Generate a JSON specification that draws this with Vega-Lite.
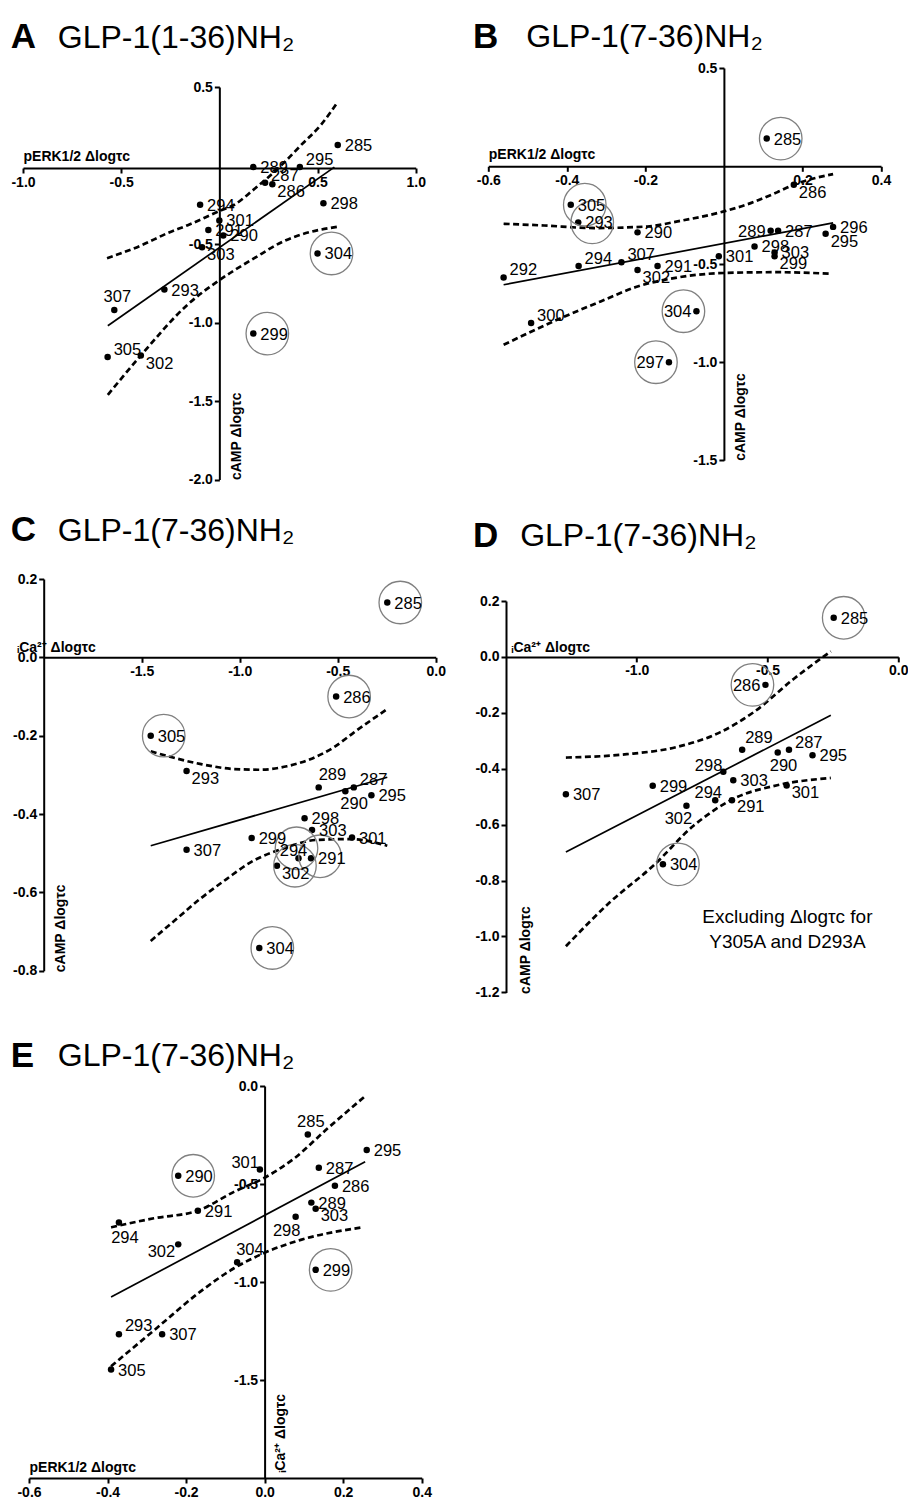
{
"$schema": "https://vega.github.io/schema/vega-lite/v6.json",
"padding": {"left": 10, "top": 19, "right": 0, "bottom": 0},
"background": "white",
"bounds": "flush",
"align": "each",
"columns": 2,
"spacing": {"row": 93, "column": 52.3},
"config": {
  "view": {"stroke": null},
  "axis": {"domainColor": "black", "domainWidth": 2, "tickColor": "black", "tickWidth": 2, "tickSize": 5, "grid": false,
    "labelFont": "Liberation Sans", "labelFontWeight": "bold", "labelFontSize": 14, "labelColor": "black", "labelPadding": 2,
    "labelFlush": false, "labelOverlap": false, "labelBound": false,
    "labelExpr": "replace(format(datum.value, '.1f'), '\u2212', '-')",
    "titleFont": "Liberation Sans", "titleFontWeight": "bold", "titleFontSize": 14, "titleColor": "black"},
  "axisX": {"titleAlign": "left", "titleBaseline": "alphabetic", "titleAngle": 0},
  "axisY": {"titleAngle": 270, "titleAlign": "left", "titleBaseline": "top"},
  "text": {"font": "Liberation Sans", "fontSize": 16.5, "color": "black", "baseline": "middle"},
  "title": {"anchor": "start", "frame": "group", "font": "Liberation Sans", "fontSize": 35, "fontWeight": "bold", "color": "black",
    "subtitleFont": "Liberation Sans", "subtitleFontSize": 32, "subtitleFontWeight": "normal", "subtitleColor": "black", "subtitlePadding": -32.6}
},
"datasets": {
  "A_pt": [
    {"id":"285","x":0.603,"y":0.13,"c":false},{"id":"289","x":0.173,"y":-0.01,"c":false},{"id":"295","x":0.41,"y":-0.01,"c":false},
    {"id":"287","x":0.233,"y":-0.11,"c":false},{"id":"286","x":0.27,"y":-0.12,"c":false},{"id":"298","x":0.53,"y":-0.24,"c":false},
    {"id":"294","x":-0.098,"y":-0.25,"c":false},{"id":"301","x":0.0,"y":-0.35,"c":false},{"id":"291","x":-0.056,"y":-0.41,"c":false},
    {"id":"290","x":0.02,"y":-0.445,"c":false},{"id":"303","x":-0.088,"y":-0.52,"c":false},{"id":"304","x":0.5,"y":-0.56,"c":true},
    {"id":"293","x":-0.28,"y":-0.79,"c":false},{"id":"307","x":-0.535,"y":-0.92,"c":false},{"id":"299","x":0.173,"y":-1.07,"c":true},
    {"id":"305","x":-0.569,"y":-1.22,"c":false},{"id":"302","x":-0.4,"y":-1.21,"c":false}],
  "A_ln": [
    {"s":"fit","x":-0.568,"y":-1.02},{"s":"fit","x":0.586,"y":-0.01},
    {"s":"up","x":-0.572,"y":-0.59},{"s":"up","x":-0.4,"y":-0.51},{"s":"up","x":-0.263,"y":-0.43},{"s":"up","x":-0.161,"y":-0.38},
    {"s":"up","x":0,"y":-0.29},{"s":"up","x":0.076,"y":-0.25},{"s":"up","x":0.178,"y":-0.15},{"s":"up","x":0.331,"y":0.02},
    {"s":"up","x":0.416,"y":0.13},{"s":"up","x":0.518,"y":0.26},{"s":"up","x":0.603,"y":0.405},
    {"s":"lo","x":-0.568,"y":-1.46},{"s":"lo","x":-0.4,"y":-1.21},{"s":"lo","x":-0.161,"y":-0.885},{"s":"lo","x":0,"y":-0.73},
    {"s":"lo","x":0.178,"y":-0.59},{"s":"lo","x":0.331,"y":-0.48},{"s":"lo","x":0.416,"y":-0.44},{"s":"lo","x":0.603,"y":-0.39}],
  "B_pt": [
    {"id":"285","x":0.109,"y":0.14,"c":true},{"id":"286","x":0.178,"y":-0.095,"c":false},{"id":"305","x":-0.39,"y":-0.197,"c":true},
    {"id":"293","x":-0.371,"y":-0.287,"c":true},{"id":"290","x":-0.22,"y":-0.338,"c":false},{"id":"289","x":0.119,"y":-0.33,"c":false},
    {"id":"287","x":0.138,"y":-0.33,"c":false},{"id":"296","x":0.278,"y":-0.31,"c":false},{"id":"295","x":0.259,"y":-0.345,"c":false},
    {"id":"298","x":0.078,"y":-0.41,"c":false},{"id":"303","x":0.129,"y":-0.44,"c":false},{"id":"299","x":0.129,"y":-0.46,"c":false},
    {"id":"301","x":-0.013,"y":-0.46,"c":false},{"id":"291","x":-0.169,"y":-0.51,"c":false},{"id":"302","x":-0.22,"y":-0.53,"c":false},
    {"id":"307","x":-0.261,"y":-0.49,"c":false},{"id":"294","x":-0.37,"y":-0.51,"c":false},{"id":"292","x":-0.561,"y":-0.568,"c":false},
    {"id":"300","x":-0.491,"y":-0.8,"c":false},{"id":"304","x":-0.07,"y":-0.74,"c":true},{"id":"297","x":-0.14,"y":-1.0,"c":true}],
  "B_ln": [
    {"s":"fit","x":-0.561,"y":-0.605},{"s":"fit","x":0.278,"y":-0.29},
    {"s":"up","x":-0.561,"y":-0.294},{"s":"up","x":-0.458,"y":-0.303},{"s":"up","x":-0.331,"y":-0.316},{"s":"up","x":-0.195,"y":-0.308},
    {"s":"up","x":-0.118,"y":-0.282},{"s":"up","x":0,"y":-0.231},{"s":"up","x":0.068,"y":-0.189},{"s":"up","x":0.136,"y":-0.133},
    {"s":"up","x":0.178,"y":-0.095},{"s":"up","x":0.278,"y":-0.041},
    {"s":"lo","x":-0.561,"y":-0.911},{"s":"lo","x":-0.415,"y":-0.775},{"s":"lo","x":-0.314,"y":-0.69},{"s":"lo","x":-0.22,"y":-0.614},
    {"s":"lo","x":-0.118,"y":-0.568},{"s":"lo","x":0,"y":-0.545},{"s":"lo","x":0.136,"y":-0.541},{"s":"lo","x":0.271,"y":-0.549}],
  "C_pt": [
    {"id":"285","x":-0.247,"y":0.14,"c":true},{"id":"286","x":-0.508,"y":-0.1,"c":true},{"id":"305","x":-1.454,"y":-0.2,"c":true},
    {"id":"293","x":-1.271,"y":-0.29,"c":false},{"id":"289","x":-0.597,"y":-0.332,"c":false},{"id":"287","x":-0.418,"y":-0.332,"c":false},
    {"id":"290","x":-0.461,"y":-0.342,"c":false},{"id":"295","x":-0.328,"y":-0.352,"c":false},{"id":"298","x":-0.669,"y":-0.411,"c":false},
    {"id":"303","x":-0.631,"y":-0.441,"c":false},{"id":"301","x":-0.427,"y":-0.46,"c":false},{"id":"299","x":-0.939,"y":-0.461,"c":false},
    {"id":"307","x":-1.271,"y":-0.491,"c":false},{"id":"294","x":-0.7,"y":-0.513,"c":true},{"id":"291","x":-0.636,"y":-0.513,"c":true},
    {"id":"302","x":-0.81,"y":-0.532,"c":true},{"id":"304","x":-0.9,"y":-0.742,"c":true}],
  "C_ln": [
    {"s":"fit","x":-1.454,"y":-0.481},{"s":"fit","x":-0.247,"y":-0.306},
    {"s":"up","x":-1.454,"y":-0.24},{"s":"up","x":-1.203,"y":-0.272},{"s":"up","x":-1.033,"y":-0.285},{"s":"up","x":-0.896,"y":-0.287},
    {"s":"up","x":-0.759,"y":-0.278},{"s":"up","x":-0.64,"y":-0.26},{"s":"up","x":-0.521,"y":-0.23},{"s":"up","x":-0.418,"y":-0.192},
    {"s":"up","x":-0.247,"y":-0.132},
    {"s":"lo","x":-1.454,"y":-0.724},{"s":"lo","x":-1.323,"y":-0.668},{"s":"lo","x":-1.203,"y":-0.617},{"s":"lo","x":-1.067,"y":-0.566},
    {"s":"lo","x":-0.947,"y":-0.524},{"s":"lo","x":-0.777,"y":-0.488},{"s":"lo","x":-0.606,"y":-0.466},{"s":"lo","x":-0.435,"y":-0.464},
    {"s":"lo","x":-0.247,"y":-0.481}],
  "D_pt": [
    {"id":"285","x":-0.247,"y":0.14,"c":true},{"id":"286","x":-0.508,"y":-0.1,"c":true},
    {"id":"289","x":-0.597,"y":-0.332,"c":false},{"id":"287","x":-0.418,"y":-0.332,"c":false},
    {"id":"290","x":-0.461,"y":-0.342,"c":false},{"id":"295","x":-0.328,"y":-0.352,"c":false},{"id":"298","x":-0.669,"y":-0.411,"c":false},
    {"id":"303","x":-0.631,"y":-0.441,"c":false},{"id":"301","x":-0.427,"y":-0.46,"c":false},{"id":"299","x":-0.939,"y":-0.461,"c":false},
    {"id":"307","x":-1.271,"y":-0.491,"c":false},{"id":"294","x":-0.7,"y":-0.513,"c":false},{"id":"291","x":-0.636,"y":-0.513,"c":false},
    {"id":"302","x":-0.81,"y":-0.532,"c":false},{"id":"304","x":-0.9,"y":-0.742,"c":true}],
  "D_ln": [
    {"s":"fit","x":-1.271,"y":-0.698},{"s":"fit","x":-0.258,"y":-0.209},
    {"s":"up","x":-1.271,"y":-0.36},{"s":"up","x":-1.038,"y":-0.348},{"s":"up","x":-0.846,"y":-0.322},{"s":"up","x":-0.68,"y":-0.269},
    {"s":"up","x":-0.552,"y":-0.197},{"s":"up","x":-0.399,"y":-0.078},{"s":"up","x":-0.258,"y":0.02},
    {"s":"lo","x":-1.271,"y":-1.035},{"s":"lo","x":-1.102,"y":-0.877},{"s":"lo","x":-0.936,"y":-0.746},{"s":"lo","x":-0.782,"y":-0.603},
    {"s":"lo","x":-0.629,"y":-0.507},{"s":"lo","x":-0.463,"y":-0.459},{"s":"lo","x":-0.258,"y":-0.433}],
  "D_note": [
    {"t": "Excluding \u0394log\u03c4c for", "x": -0.424, "y": -0.952},
    {"t": "Y305A and D293A", "x": -0.424, "y": -1.042}],
  "E_pt": [
    {"id":"285","x":0.11,"y":-0.248,"c":false},{"id":"295","x":0.26,"y":-0.327,"c":false},{"id":"287","x":0.138,"y":-0.417,"c":false},
    {"id":"301","x":-0.012,"y":-0.426,"c":false},{"id":"290","x":-0.22,"y":-0.458,"c":true},{"id":"286","x":0.179,"y":-0.509,"c":false},
    {"id":"289","x":0.119,"y":-0.595,"c":false},{"id":"303","x":0.13,"y":-0.626,"c":false},{"id":"291","x":-0.17,"y":-0.636,"c":false},
    {"id":"298","x":0.079,"y":-0.667,"c":false},{"id":"294","x":-0.371,"y":-0.697,"c":false},{"id":"302","x":-0.22,"y":-0.808,"c":false},
    {"id":"304","x":-0.07,"y":-0.899,"c":false},{"id":"299","x":0.13,"y":-0.938,"c":true},{"id":"293","x":-0.371,"y":-1.266,"c":false},
    {"id":"307","x":-0.261,"y":-1.266,"c":false},{"id":"305","x":-0.391,"y":-1.447,"c":false}],
  "E_ln": [
    {"s":"fit","x":-0.391,"y":-1.077},{"s":"fit","x":0.256,"y":-0.387},
    {"s":"up","x":-0.391,"y":-0.721},{"s":"up","x":-0.282,"y":-0.675},{"s":"up","x":-0.17,"y":-0.636},{"s":"up","x":-0.078,"y":-0.54},
    {"s":"up","x":0,"y":-0.468},{"s":"up","x":0.075,"y":-0.37},{"s":"up","x":0.16,"y":-0.217},{"s":"up","x":0.256,"y":-0.052},
    {"s":"lo","x":-0.391,"y":-1.43},{"s":"lo","x":-0.273,"y":-1.232},{"s":"lo","x":-0.163,"y":-1.048},{"s":"lo","x":-0.078,"y":-0.93},
    {"s":"lo","x":0,"y":-0.851},{"s":"lo","x":0.092,"y":-0.785},{"s":"lo","x":0.249,"y":-0.721}]
},
"concat": [
  {
   "width": 392.7, "height": 417.6,
   "title": {"text": "A", "subtitle": "\u200b\u00a0\u00a0\u00a0\u00a0\u00a0\u200aGLP-1(1-36)NH\u2082", "dx": -12.3, "offset": 12.7},
   "encoding": {
     "x": {"field": "x", "type": "quantitative", "scale": {"domain": [-1, 1], "range": [0, 392.7], "nice": false, "zero": false},
       "axis": {"orient": "bottom", "offset": -317.6, "values": [-1, -0.5, 0.5, 1], "title": "pERK1/2 \u0394log\u03c4c", "titleX": 0, "titleY": -7.4}},
     "y": {"field": "y", "type": "quantitative", "scale": {"domain": [-2, 0.5], "range": [411.6, 19], "nice": false, "zero": false},
       "axis": {"orient": "left", "offset": -196.35, "values": [0.5, -0.5, -1, -1.5, -2], "title": "cAMP \u0394log\u03c4c", "titleX": 10, "titleY": 411.6}}
   },
   "layer": [
     {"data": {"name": "A_ln"}, "transform": [{"filter": "datum.s === 'fit'"}], "mark": {"type": "line", "color": "black", "strokeWidth": 1.7}},
     {"data": {"name": "A_ln"}, "transform": [{"filter": "datum.s !== 'fit'"}], "mark": {"type": "line", "color": "black", "strokeWidth": 2.7, "strokeDash": [6, 3.5], "interpolate": "monotone"}, "encoding": {"detail": {"field": "s"}}},
     {"data": {"name": "A_pt"}, "mark": {"type": "circle", "size": 42, "color": "black", "opacity": 1}},
     {"data": {"name": "A_pt"}, "transform": [{"filter": "datum.c"}], "mark": {"type": "point", "shape": "circle", "filled": false, "size": 1810, "color": "#808080", "strokeWidth": 1.3, "opacity": 1, "xOffset": 14}},
     {"data": {"name": "A_pt"}, "transform": [{"filter": "indexof(['295','287','305','286','303','302','307'], datum.id) < 0"}], "mark": {"type": "text", "align": "left", "dx": 7, "dy": 1}, "encoding": {"text": {"field": "id"}}},
     {"data": {"name": "A_pt"}, "transform": [{"filter": "indexof(['295','287','305'], datum.id) >= 0"}], "mark": {"type": "text", "align": "left", "dx": 6, "dy": -7}, "encoding": {"text": {"field": "id"}}},
     {"data": {"name": "A_pt"}, "transform": [{"filter": "indexof(['286','303','302'], datum.id) >= 0"}], "mark": {"type": "text", "align": "left", "dx": 5, "dy": 8}, "encoding": {"text": {"field": "id"}}},
     {"data": {"name": "A_pt"}, "transform": [{"filter": "indexof(['307'], datum.id) >= 0"}], "mark": {"type": "text", "align": "center", "dx": 3, "dy": -13}, "encoding": {"text": {"field": "id"}}}
   ]
  },
  {
   "width": 392.7, "height": 417.6,
   "title": {"text": "B", "subtitle": "\u200b\u00a0\u00a0\u00a0\u00a0\u00a0\u00a0GLP-1(7-36)NH\u2082", "dx": -15.3, "offset": 6.2},
   "encoding": {
     "x": {"field": "x", "type": "quantitative", "scale": {"domain": [-0.6, 0.4], "range": [0, 392.7], "nice": false, "zero": false},
       "axis": {"orient": "bottom", "offset": -319.3, "values": [-0.6, -0.4, -0.2, 0.2, 0.4], "title": "pERK1/2 \u0394log\u03c4c", "titleX": 0, "titleY": -7.7}},
     "y": {"field": "y", "type": "quantitative", "scale": {"domain": [-1.5, 0.5], "range": [392.3, 0], "nice": false, "zero": false},
       "axis": {"orient": "left", "offset": -235.6, "values": [0.5, -0.5, -1, -1.5], "title": "cAMP \u0394log\u03c4c", "titleX": 10, "titleY": 392.3}}
   },
   "layer": [
     {"data": {"name": "B_ln"}, "transform": [{"filter": "datum.s === 'fit'"}], "mark": {"type": "line", "color": "black", "strokeWidth": 1.7}},
     {"data": {"name": "B_ln"}, "transform": [{"filter": "datum.s !== 'fit'"}], "mark": {"type": "line", "color": "black", "strokeWidth": 2.7, "strokeDash": [6, 3.5], "interpolate": "monotone"}, "encoding": {"detail": {"field": "s"}}},
     {"data": {"name": "B_pt"}, "mark": {"type": "circle", "size": 42, "color": "black", "opacity": 1}},
     {"data": {"name": "B_pt"}, "transform": [{"filter": "datum.c && indexof(['304','297'], datum.id) < 0"}], "mark": {"type": "point", "shape": "circle", "filled": false, "size": 1810, "color": "#808080", "strokeWidth": 1.3, "opacity": 1, "xOffset": 14}},
     {"data": {"name": "B_pt"}, "transform": [{"filter": "indexof(['304','297'], datum.id) >= 0"}], "mark": {"type": "point", "shape": "circle", "filled": false, "size": 1810, "color": "#808080", "strokeWidth": 1.3, "opacity": 1, "xOffset": -13}},
     {"data": {"name": "B_pt"}, "transform": [{"filter": "indexof(['286','295','299','302','307','292','300','294','289','304','297'], datum.id) < 0"}], "mark": {"type": "text", "align": "left", "dx": 7, "dy": 1}, "encoding": {"text": {"field": "id"}}},
     {"data": {"name": "B_pt"}, "transform": [{"filter": "indexof(['286','295','299','302'], datum.id) >= 0"}], "mark": {"type": "text", "align": "left", "dx": 5, "dy": 8}, "encoding": {"text": {"field": "id"}}},
     {"data": {"name": "B_pt"}, "transform": [{"filter": "indexof(['307','292','300','294'], datum.id) >= 0"}], "mark": {"type": "text", "align": "left", "dx": 6, "dy": -7}, "encoding": {"text": {"field": "id"}}},
     {"data": {"name": "B_pt"}, "transform": [{"filter": "indexof(['289','304','297'], datum.id) >= 0"}], "mark": {"type": "text", "align": "right", "dx": -5, "dy": 1}, "encoding": {"text": {"field": "id"}}}
   ]
  },
  {
   "width": 412.7, "height": 413.7,
   "title": {"text": "C", "subtitle": "\u200b\u00a0\u00a0\u00a0\u00a0\u00a0\u200aGLP-1(7-36)NH\u2082", "dx": -12.3, "offset": 23.8},
   "encoding": {
     "x": {"field": "x", "type": "quantitative", "scale": {"domain": [-2, 0], "range": [20.7, 412.7], "nice": false, "zero": false},
       "axis": {"orient": "bottom", "offset": -335.4, "values": [-1.5, -1, -0.5, 0], "title": "\u1d62Ca\u00b2\u207a \u0394log\u03c4c", "titleX": -6.3, "titleY": -5.7}},
     "y": {"field": "y", "type": "quantitative", "scale": {"domain": [-0.8, 0.2], "range": [391.7, 0], "nice": false, "zero": false},
       "axis": {"orient": "left", "offset": -20.7, "values": [0.2, 0, -0.2, -0.4, -0.6, -0.8], "title": "cAMP \u0394log\u03c4c", "titleX": 10, "titleY": 392.7}}
   },
   "layer": [
     {"data": {"name": "C_ln"}, "transform": [{"filter": "datum.s === 'fit'"}], "mark": {"type": "line", "color": "black", "strokeWidth": 1.7}},
     {"data": {"name": "C_ln"}, "transform": [{"filter": "datum.s !== 'fit'"}], "mark": {"type": "line", "color": "black", "strokeWidth": 2.7, "strokeDash": [6, 3.5], "interpolate": "monotone"}, "encoding": {"detail": {"field": "s"}}},
     {"data": {"name": "C_pt"}, "mark": {"type": "circle", "size": 42, "color": "black", "opacity": 1}},
     {"data": {"name": "C_pt"}, "transform": [{"filter": "indexof(['285','286','305','304'], datum.id) >= 0"}], "mark": {"type": "point", "shape": "circle", "filled": false, "size": 1810, "color": "#808080", "strokeWidth": 1.3, "opacity": 1, "xOffset": 13}},
     {"data": {"name": "C_pt"}, "transform": [{"filter": "datum.id === '294'"}], "mark": {"type": "point", "shape": "circle", "filled": false, "size": 1810, "color": "#808080", "strokeWidth": 1.3, "opacity": 1, "xOffset": -2, "yOffset": -10}},
     {"data": {"name": "C_pt"}, "transform": [{"filter": "datum.id === '291'"}], "mark": {"type": "point", "shape": "circle", "filled": false, "size": 1810, "color": "#808080", "strokeWidth": 1.3, "opacity": 1, "xOffset": 9, "yOffset": -2}},
     {"data": {"name": "C_pt"}, "transform": [{"filter": "datum.id === '302'"}], "mark": {"type": "point", "shape": "circle", "filled": false, "size": 1810, "color": "#808080", "strokeWidth": 1.3, "opacity": 1, "xOffset": 18}},
     {"data": {"name": "C_pt"}, "transform": [{"filter": "indexof(['293','302','289','287','290','294'], datum.id) < 0"}], "mark": {"type": "text", "align": "left", "dx": 7, "dy": 1}, "encoding": {"text": {"field": "id"}}},
     {"data": {"name": "C_pt"}, "transform": [{"filter": "indexof(['293','302'], datum.id) >= 0"}], "mark": {"type": "text", "align": "left", "dx": 5, "dy": 8}, "encoding": {"text": {"field": "id"}}},
     {"data": {"name": "C_pt"}, "transform": [{"filter": "indexof(['289'], datum.id) >= 0"}], "mark": {"type": "text", "align": "left", "dx": 0, "dy": -12}, "encoding": {"text": {"field": "id"}}},
     {"data": {"name": "C_pt"}, "transform": [{"filter": "indexof(['287'], datum.id) >= 0"}], "mark": {"type": "text", "align": "left", "dx": 6, "dy": -7}, "encoding": {"text": {"field": "id"}}},
     {"data": {"name": "C_pt"}, "transform": [{"filter": "indexof(['290'], datum.id) >= 0"}], "mark": {"type": "text", "align": "left", "dx": -5, "dy": 13}, "encoding": {"text": {"field": "id"}}},
     {"data": {"name": "C_pt"}, "transform": [{"filter": "indexof(['294'], datum.id) >= 0"}], "mark": {"type": "text", "align": "center", "dx": -5, "dy": -7}, "encoding": {"text": {"field": "id"}}}
   ]
  },
  {
   "width": 410, "height": 413.7,
   "title": {"text": "D", "subtitle": "\u200b\u00a0\u00a0\u00a0\u00a0\u00a0\u200aGLP-1(7-36)NH\u2082", "dx": -15.3, "offset": 25.3},
   "encoding": {
     "x": {"field": "x", "type": "quantitative", "scale": {"domain": [-1.5, 0], "range": [17.7, 410], "nice": false, "zero": false},
       "axis": {"orient": "bottom", "offset": -335.8, "values": [-1, -0.5, 0], "title": "\u1d62Ca\u00b2\u207a \u0394log\u03c4c", "titleX": 22.7, "titleY": -5.7}},
     "y": {"field": "y", "type": "quantitative", "scale": {"domain": [-1.2, 0.2], "range": [413.4, 22], "nice": false, "zero": false},
       "axis": {"orient": "left", "offset": -17.7, "values": [0.2, 0, -0.2, -0.4, -0.6, -0.8, -1, -1.2], "title": "cAMP \u0394log\u03c4c", "titleX": 12, "titleY": 414.4}}
   },
   "layer": [
     {"data": {"name": "D_ln"}, "transform": [{"filter": "datum.s === 'fit'"}], "mark": {"type": "line", "color": "black", "strokeWidth": 1.7}},
     {"data": {"name": "D_ln"}, "transform": [{"filter": "datum.s !== 'fit'"}], "mark": {"type": "line", "color": "black", "strokeWidth": 2.7, "strokeDash": [6, 3.5], "interpolate": "monotone"}, "encoding": {"detail": {"field": "s"}}},
     {"data": {"name": "D_pt"}, "mark": {"type": "circle", "size": 42, "color": "black", "opacity": 1}},
     {"data": {"name": "D_pt"}, "transform": [{"filter": "datum.id === '285'"}], "mark": {"type": "point", "shape": "circle", "filled": false, "size": 1810, "color": "#808080", "strokeWidth": 1.3, "opacity": 1, "xOffset": 10}},
     {"data": {"name": "D_pt"}, "transform": [{"filter": "datum.id === '286'"}], "mark": {"type": "point", "shape": "circle", "filled": false, "size": 1810, "color": "#808080", "strokeWidth": 1.3, "opacity": 1, "xOffset": -13}},
     {"data": {"name": "D_pt"}, "transform": [{"filter": "datum.id === '304'"}], "mark": {"type": "point", "shape": "circle", "filled": false, "size": 1810, "color": "#808080", "strokeWidth": 1.3, "opacity": 1, "xOffset": 15}},
     {"data": {"name": "D_pt"}, "transform": [{"filter": "indexof(['286','289','287','290','298','294','291','301','302'], datum.id) < 0"}], "mark": {"type": "text", "align": "left", "dx": 7, "dy": 1}, "encoding": {"text": {"field": "id"}}},
     {"data": {"name": "D_pt"}, "transform": [{"filter": "indexof(['286'], datum.id) >= 0"}], "mark": {"type": "text", "align": "right", "dx": -5, "dy": 1}, "encoding": {"text": {"field": "id"}}},
     {"data": {"name": "D_pt"}, "transform": [{"filter": "indexof(['289'], datum.id) >= 0"}], "mark": {"type": "text", "align": "left", "dx": 3, "dy": -12}, "encoding": {"text": {"field": "id"}}},
     {"data": {"name": "D_pt"}, "transform": [{"filter": "indexof(['287'], datum.id) >= 0"}], "mark": {"type": "text", "align": "left", "dx": 6, "dy": -7}, "encoding": {"text": {"field": "id"}}},
     {"data": {"name": "D_pt"}, "transform": [{"filter": "indexof(['290'], datum.id) >= 0"}], "mark": {"type": "text", "align": "left", "dx": -8, "dy": 13}, "encoding": {"text": {"field": "id"}}},
     {"data": {"name": "D_pt"}, "transform": [{"filter": "indexof(['298'], datum.id) >= 0"}], "mark": {"type": "text", "align": "right", "dx": -1, "dy": -6}, "encoding": {"text": {"field": "id"}}},
     {"data": {"name": "D_pt"}, "transform": [{"filter": "indexof(['294'], datum.id) >= 0"}], "mark": {"type": "text", "align": "center", "dx": -7, "dy": -7}, "encoding": {"text": {"field": "id"}}},
     {"data": {"name": "D_pt"}, "transform": [{"filter": "indexof(['291','301'], datum.id) >= 0"}], "mark": {"type": "text", "align": "left", "dx": 5, "dy": 7}, "encoding": {"text": {"field": "id"}}},
     {"data": {"name": "D_pt"}, "transform": [{"filter": "indexof(['302'], datum.id) >= 0"}], "mark": {"type": "text", "align": "center", "dx": -8, "dy": 13}, "encoding": {"text": {"field": "id"}}},
     {"data": {"name": "D_note"}, "mark": {"type": "text", "align": "center", "baseline": "alphabetic", "fontSize": 19}, "encoding": {"text": {"field": "t"}}}
   ]
  },
  {
   "width": 398.7, "height": 392,
   "title": {"text": "E", "subtitle": "\u200b\u00a0\u00a0\u00a0\u00a0\u00a0\u200aGLP-1(7-36)NH\u2082", "dx": -12.3, "offset": 5.5},
   "encoding": {
     "x": {"field": "x", "type": "quantitative", "scale": {"domain": [-0.6, 0.4], "range": [6, 398.7], "nice": false, "zero": false},
       "axis": {"orient": "bottom", "offset": 0, "values": [-0.6, -0.4, -0.2, 0, 0.2, 0.4], "title": "pERK1/2 \u0394log\u03c4c", "titleX": 6, "titleY": -6.7}},
     "y": {"field": "y", "type": "quantitative", "scale": {"domain": [-2, 0], "range": [392, 0], "nice": false, "zero": false},
       "axis": {"orient": "left", "offset": -241.6, "values": [0, -0.5, -1, -1.5], "title": "\u1d62Ca\u00b2\u207a \u0394log\u03c4c", "titleX": 9, "titleY": 386}}
   },
   "layer": [
     {"data": {"name": "E_ln"}, "transform": [{"filter": "datum.s === 'fit'"}], "mark": {"type": "line", "color": "black", "strokeWidth": 1.7}},
     {"data": {"name": "E_ln"}, "transform": [{"filter": "datum.s !== 'fit'"}], "mark": {"type": "line", "color": "black", "strokeWidth": 2.7, "strokeDash": [6, 3.5], "interpolate": "monotone"}, "encoding": {"detail": {"field": "s"}}},
     {"data": {"name": "E_pt"}, "mark": {"type": "circle", "size": 42, "color": "black", "opacity": 1}},
     {"data": {"name": "E_pt"}, "transform": [{"filter": "datum.c"}], "mark": {"type": "point", "shape": "circle", "filled": false, "size": 1810, "color": "#808080", "strokeWidth": 1.3, "opacity": 1, "xOffset": 15}},
     {"data": {"name": "E_pt"}, "transform": [{"filter": "indexof(['285','301','303','298','294','302','304','293'], datum.id) < 0"}], "mark": {"type": "text", "align": "left", "dx": 7, "dy": 1}, "encoding": {"text": {"field": "id"}}},
     {"data": {"name": "E_pt"}, "transform": [{"filter": "indexof(['285'], datum.id) >= 0"}], "mark": {"type": "text", "align": "center", "dx": 3, "dy": -13}, "encoding": {"text": {"field": "id"}}},
     {"data": {"name": "E_pt"}, "transform": [{"filter": "indexof(['301'], datum.id) >= 0"}], "mark": {"type": "text", "align": "right", "dx": -1, "dy": -6}, "encoding": {"text": {"field": "id"}}},
     {"data": {"name": "E_pt"}, "transform": [{"filter": "indexof(['303'], datum.id) >= 0"}], "mark": {"type": "text", "align": "left", "dx": 5, "dy": 7}, "encoding": {"text": {"field": "id"}}},
     {"data": {"name": "E_pt"}, "transform": [{"filter": "indexof(['298'], datum.id) >= 0"}], "mark": {"type": "text", "align": "center", "dx": -9, "dy": 14}, "encoding": {"text": {"field": "id"}}},
     {"data": {"name": "E_pt"}, "transform": [{"filter": "indexof(['294'], datum.id) >= 0"}], "mark": {"type": "text", "align": "center", "dx": 6, "dy": 15}, "encoding": {"text": {"field": "id"}}},
     {"data": {"name": "E_pt"}, "transform": [{"filter": "indexof(['302'], datum.id) >= 0"}], "mark": {"type": "text", "align": "right", "dx": -3, "dy": 8}, "encoding": {"text": {"field": "id"}}},
     {"data": {"name": "E_pt"}, "transform": [{"filter": "indexof(['304'], datum.id) >= 0"}], "mark": {"type": "text", "align": "left", "dx": -1, "dy": -12}, "encoding": {"text": {"field": "id"}}},
     {"data": {"name": "E_pt"}, "transform": [{"filter": "indexof(['293'], datum.id) >= 0"}], "mark": {"type": "text", "align": "left", "dx": 6, "dy": -8}, "encoding": {"text": {"field": "id"}}}
   ]
  }
]
}
